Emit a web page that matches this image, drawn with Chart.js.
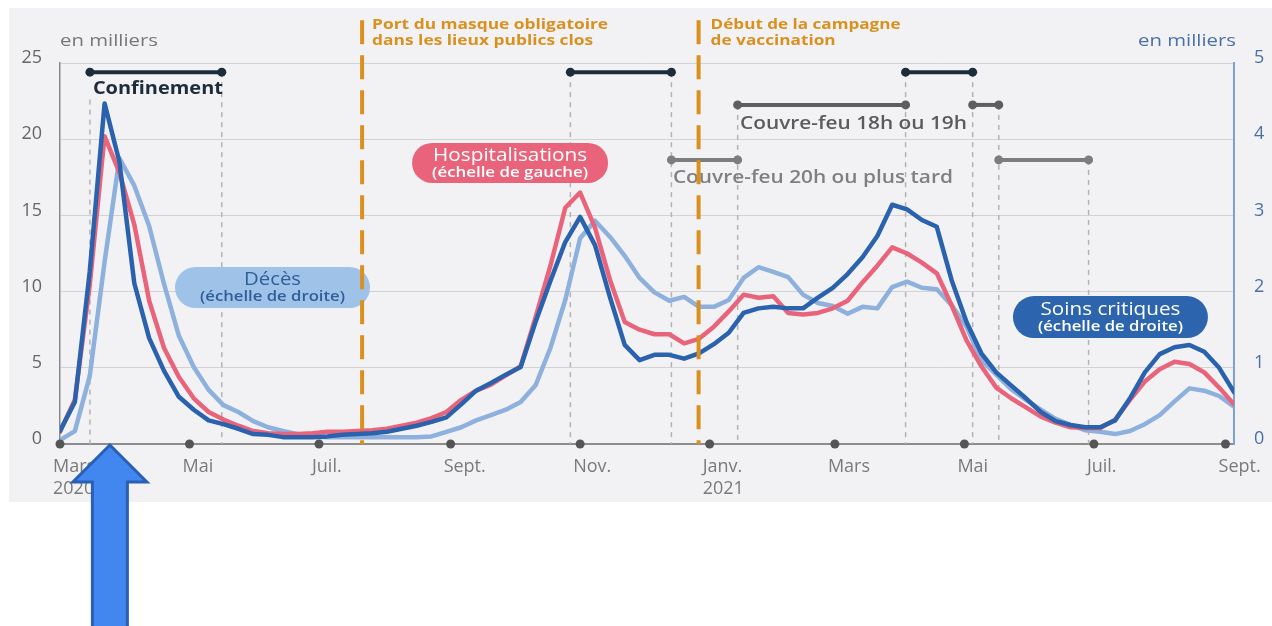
<!DOCTYPE html>
<html>
<head>
<meta charset="utf-8">
<script src="https://cdn.jsdelivr.net/npm/chart.js@4.4.0/dist/chart.umd.min.js"></script>
<style>
  html, body { margin: 0; padding: 0; background: #fff; }
  canvas { display: block; }
</style>
</head>
<body>
<canvas id="chart" width="1272" height="626"></canvas>
<script>
// x = days since 1 March 2020, one point per week
const weekDays = [0, 7, 14, 21, 28, 35, 42, 49, 56, 63, 70, 77, 84, 91, 98, 105, 112, 119, 126, 133,
  140, 147, 154, 161, 168, 175, 182, 189, 196, 203, 210, 217, 224, 231, 238, 245, 252, 259, 266, 273,
  280, 287, 294, 301, 308, 315, 322, 329, 336, 343, 350, 357, 364, 371, 378, 385, 392, 399, 406, 413,
  420, 427, 434, 441, 448, 455, 462, 469, 476, 483, 490, 497, 504, 511, 518, 525, 532, 539, 546, 553];

// Hospitalisations (left scale, thousands)
const hospitalisations = [0.8, 2.9, 10.4, 20.2, 17.8, 14.4, 9.4, 6.3, 4.4, 3.0, 2.1, 1.6, 1.2, 0.85, 0.7, 0.65, 0.65, 0.7, 0.8, 0.8,
  0.85, 0.9, 1.0, 1.2, 1.4, 1.7, 2.1, 2.9, 3.5, 3.9, 4.5, 5.1, 8.3, 11.7, 15.5, 16.5, 14.2, 10.8, 8.0, 7.5,
  7.2, 7.2, 6.6, 6.9, 7.7, 8.7, 9.8, 9.6, 9.7, 8.6, 8.5, 8.6, 8.9, 9.4, 10.6, 11.7, 12.9, 12.5, 11.9, 11.2,
  9.1, 6.8, 5.1, 3.7, 3.0, 2.4, 1.8, 1.4, 1.1, 1.05, 1.05, 1.6, 2.9, 4.1, 4.9, 5.4, 5.25, 4.7, 3.7, 2.6];

// Soins critiques (right scale, thousands)
const soinsCritiques = [0.17, 0.55, 2.26, 4.47, 3.70, 2.11, 1.39, 0.96, 0.62, 0.45, 0.31, 0.26, 0.20, 0.13, 0.12, 0.09, 0.09, 0.09, 0.10, 0.12,
  0.13, 0.14, 0.16, 0.20, 0.24, 0.29, 0.35, 0.52, 0.70, 0.80, 0.91, 1.01, 1.60, 2.14, 2.65, 2.98, 2.61, 1.93, 1.30, 1.10,
  1.17, 1.17, 1.12, 1.19, 1.31, 1.46, 1.72, 1.78, 1.80, 1.78, 1.78, 1.92, 2.05, 2.23, 2.45, 2.73, 3.14, 3.08, 2.94, 2.85,
  2.15, 1.60, 1.19, 0.94, 0.77, 0.60, 0.42, 0.30, 0.25, 0.22, 0.22, 0.31, 0.60, 0.94, 1.18, 1.27, 1.30, 1.21, 1.00, 0.68];

// Décès (right scale, thousands)
const deces = [0.05, 0.17, 0.89, 2.39, 3.75, 3.39, 2.86, 2.10, 1.42, 1.01, 0.71, 0.51, 0.42, 0.30, 0.22, 0.17, 0.13, 0.10, 0.09, 0.09,
  0.09, 0.09, 0.09, 0.09, 0.09, 0.10, 0.16, 0.22, 0.31, 0.38, 0.45, 0.55, 0.77, 1.26, 1.89, 2.70, 2.93, 2.72, 2.47, 2.18,
  1.99, 1.88, 1.93, 1.80, 1.80, 1.89, 2.18, 2.32, 2.26, 2.19, 1.96, 1.85, 1.81, 1.71, 1.80, 1.78, 2.06, 2.13, 2.05, 2.03,
  1.82, 1.54, 1.10, 0.91, 0.72, 0.58, 0.45, 0.33, 0.25, 0.18, 0.16, 0.13, 0.17, 0.26, 0.38, 0.56, 0.73, 0.70, 0.63, 0.49];

const monthTicks = [0, 61, 122, 184, 245, 306, 365, 426, 487, 549];
const monthLabels = [['Mars', '2020'], 'Mai', 'Juil.', 'Sept.', 'Nov.', ['Janv.', '2021'], 'Mars', 'Mai', 'Juil.', 'Sept.'];

// Periods (start day, end day)
const confinements = [[14.1, 76.2], [240.4, 288], [398.3, 429.9]];
const couvreFeu18 = [[319.2, 398.3], [429.9, 442.2]];
const couvreFeu20 = [[288, 319.2], [442.2, 484.5]];
const masqueDay = 142.3;
const vaccinationDay = 300.8;

const FONT = '"Open Sans", "DejaVu Sans", sans-serif';

function fitText(c, txt, x, y, w, font, color, align) {
  c.save();
  c.font = font;
  c.fillStyle = color;
  c.textBaseline = 'alphabetic';
  c.textAlign = align || 'left';
  const k = w / c.measureText(txt).width;
  c.translate(x, y);
  c.scale(k, 1);
  c.fillText(txt, 0, 0);
  c.restore();
}

function drawPeriods(c, X, Y, periods, level, color) {
  c.save();
  c.strokeStyle = color;
  c.fillStyle = color;
  c.lineWidth = 4;
  periods.forEach(([a, b]) => {
    const y = Y(level);
    c.beginPath();
    c.moveTo(X(a), y);
    c.lineTo(X(b), y);
    c.stroke();
    [a, b].forEach(d => {
      c.beginPath();
      c.arc(X(d), y, 4.5, 0, Math.PI * 2);
      c.fill();
    });
  });
  c.restore();
}

function pill(c, cx, cy, w, h, fill, l1, l2, color) {
  c.save();
  c.fillStyle = fill;
  c.beginPath();
  c.roundRect(cx - w / 2, cy - h / 2, w, h, h / 2);
  c.fill();
  c.restore();
  fitText(c, l1[0], cx, cy - 2, l1[1], '19px ' + FONT, color, 'center');
  fitText(c, l2[0], cx, cy + 14, l2[1], '600 14px ' + FONT, color, 'center');
}

const decorations = {
  id: 'decorations',
  beforeDraw(chart) {
    const c = chart.ctx;
    c.save();
    c.fillStyle = '#ffffff';
    c.fillRect(0, 0, chart.width, chart.height);
    c.fillStyle = '#f2f2f4';
    c.fillRect(9, 8, chart.width - 9, 494);
    c.restore();
  },
  beforeDatasetsDraw(chart) {
    const c = chart.ctx;
    const X = d => chart.scales.x.getPixelForValue(d);
    const Y = v => chart.scales.y.getPixelForValue(v);
    const bottom = chart.chartArea.bottom;

    // dashed markers under each period boundary
    const markers = [[14.1, 22.6], [76.2, 24.4], [240.4, 24.4], [288, 24.4], [319.2, 22.25],
      [398.3, 24.4], [429.9, 24.4], [442.2, 22.25], [484.5, 18.64]];
    c.save();
    c.strokeStyle = '#b3b3b3';
    c.lineWidth = 1.5;
    c.setLineDash([5, 5]);
    markers.forEach(([d, top]) => {
      c.beginPath();
      c.moveTo(X(d), Y(top));
      c.lineTo(X(d), bottom);
      c.stroke();
    });
    c.restore();

    drawPeriods(c, X, Y, confinements, 24.4, '#1d2c3b');
    drawPeriods(c, X, Y, couvreFeu18, 22.25, '#5e5e5e');
    drawPeriods(c, X, Y, couvreFeu20, 18.64, '#7d7d7d');

    fitText(c, 'Confinement', X(15.5), Y(22.97), 130, 'bold 18px ' + FONT, '#1d2c3b');
    fitText(c, 'Couvre-feu 18h ou 19h', X(320.3), Y(20.67), 227, '600 18px ' + FONT, '#5b5b5b');
    fitText(c, 'Couvre-feu 20h ou plus tard', X(288.7), Y(17.13), 280, '600 18px ' + FONT, '#7f7f7f');
  },
  afterDatasetsDraw(chart) {
    const c = chart.ctx;
    const X = d => chart.scales.x.getPixelForValue(d);
    const Y = v => chart.scales.y.getPixelForValue(v);
    const bottom = chart.chartArea.bottom;

    pill(c, X(212), Y(18.44), 196, 40, '#e9647b',
      ['Hospitalisations', 154], ['(échelle de gauche)', 156], '#ffffff');
    pill(c, X(100.1), Y(10.27), 195, 41, '#9fc2e8',
      ['Décès', 57], ['(échelle de droite)', 145], '#2f5e98');
    pill(c, X(494.8), Y(8.33), 195, 42, '#2c64ae',
      ['Soins critiques', 140], ['(échelle de droite)', 145], '#ffffff');

    // orange event lines
    c.save();
    c.strokeStyle = '#d9901e';
    c.lineWidth = 4;
    c.setLineDash([24, 11]);
    [masqueDay, vaccinationDay].forEach(d => {
      c.beginPath();
      c.moveTo(X(d), Y(27.8));
      c.lineTo(X(d), bottom);
      c.stroke();
    });
    c.restore();
    const of = 'bold 15px ' + FONT;
    fitText(c, 'Port du masque obligatoire', X(masqueDay) + 10, Y(27.23), 236, of, '#d9901e');
    fitText(c, 'dans les lieux publics clos', X(masqueDay) + 10, Y(26.18), 221, of, '#d9901e');
    fitText(c, 'Début de la campagne', X(vaccinationDay) + 12, Y(27.23), 190, of, '#d9901e');
    fitText(c, 'de vaccination', X(vaccinationDay) + 12, Y(26.18), 125, of, '#d9901e');
  },
  afterDraw(chart) {
    const c = chart.ctx;
    const X = d => chart.scales.x.getPixelForValue(d);
    const area = chart.chartArea;

    // month dots on the axis
    c.save();
    c.fillStyle = '#555555';
    monthTicks.forEach(d => {
      c.beginPath();
      c.arc(X(d), area.bottom, 4.5, 0, Math.PI * 2);
      c.fill();
    });
    c.restore();

    fitText(c, 'en milliers', area.left, area.top - 17, 98, '17px ' + FONT, '#777777');
    fitText(c, 'en milliers', area.right + 2, area.top - 17, 98, '17px ' + FONT, '#4a70a8', 'right');

    // blue arrow pointing at the first peak
    const ax = X(23.5), ty = area.bottom + 1;
    c.save();
    c.beginPath();
    c.moveTo(ax, ty);
    c.lineTo(ax + 37, ty + 37);
    c.lineTo(ax + 17.5, ty + 37);
    c.lineTo(ax + 17.5, chart.height + 5);
    c.lineTo(ax - 17.5, chart.height + 5);
    c.lineTo(ax - 17.5, ty + 37);
    c.lineTo(ax - 37, ty + 37);
    c.closePath();
    c.fillStyle = '#4286f0';
    c.fill();
    c.strokeStyle = '#2b5fb5';
    c.lineWidth = 3;
    c.stroke();
    c.restore();
  }
};

const toPoints = vals => weekDays.map((d, i) => ({ x: d, y: vals[i] }));

new Chart(document.getElementById('chart'), {
  type: 'line',
  data: {
    datasets: [
      { label: 'Soins critiques', data: toPoints(soinsCritiques), yAxisID: 'y1', borderColor: '#2a62ad' },
      { label: 'Hospitalisations', data: toPoints(hospitalisations), yAxisID: 'y', borderColor: '#e9647b' },
      { label: 'Décès', data: toPoints(deces), yAxisID: 'y1', borderColor: '#8db0dd' }
    ]
  },
  options: {
    responsive: false,
    animation: false,
    devicePixelRatio: 1,
    layout: { padding: { top: 63, left: 0, right: 0, bottom: 0 } },
    elements: {
      line: { borderWidth: 4.5, tension: 0, borderJoinStyle: 'round', borderCapStyle: 'round' },
      point: { radius: 0 }
    },
    plugins: { legend: { display: false }, tooltip: { enabled: false } },
    scales: {
      x: {
        type: 'linear',
        min: 0,
        max: 553,
        grid: { drawOnChartArea: false, drawTicks: false },
        border: { color: '#8c8c8c', width: 2 },
        afterBuildTicks: s => { s.ticks = monthTicks.map(v => ({ value: v })); },
        afterFit: s => { s.height = 182; s.paddingLeft = 0; s.paddingRight = 0; },
        ticks: {
          autoSkip: false,
          maxRotation: 0,
          align: 'start',
          labelOffset: -7,
          padding: 12,
          color: '#7a7a7a',
          font: { family: FONT, size: 18 },
          callback: (v, i) => monthLabels[i]
        }
      },
      y: {
        position: 'left',
        min: 0,
        max: 25,
        grid: { color: '#d3d3d3', lineWidth: 1, drawTicks: false },
        border: { color: '#8a8a8a', width: 1.5 },
        afterFit: s => { s.width = 60; s.paddingTop = 0; s.paddingBottom = 0; },
        ticks: {
          stepSize: 5,
          padding: 18,
          labelOffset: -5,
          color: '#666666',
          font: { family: FONT, size: 18 }
        }
      },
      y1: {
        position: 'right',
        min: 0,
        max: 5,
        grid: { drawOnChartArea: false, drawTicks: false },
        border: { color: '#7ba2d2', width: 2 },
        afterFit: s => { s.width = 38; s.paddingTop = 0; s.paddingBottom = 0; },
        ticks: {
          stepSize: 1,
          padding: 20,
          labelOffset: -5,
          color: '#4a70a8',
          font: { family: FONT, size: 18 }
        }
      }
    }
  },
  plugins: [decorations]
});
</script>
</body>
</html>
